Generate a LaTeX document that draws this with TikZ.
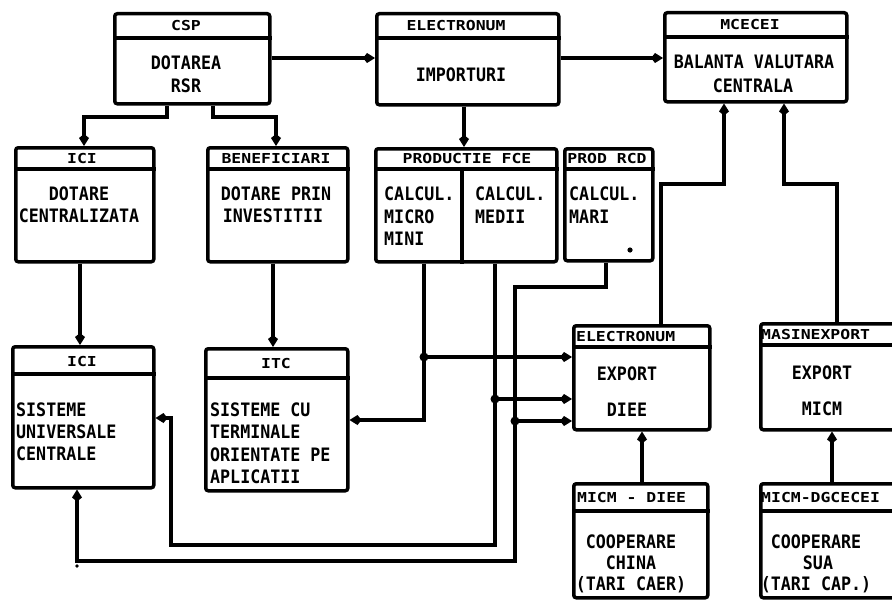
\documentclass[tikz,border=0pt]{standalone}
\usepackage{fontspec}
\newfontfamily\headfont{DejaVu Sans Mono}[FakeStretch=1.2]
\newfontfamily\bodyfont{DejaVu Sans Mono}[FakeStretch=0.9]
\usetikzlibrary{arrows.meta}
\begin{document}
\begin{tikzpicture}[x=1pt,y=-1pt,
  box/.style={draw, line width=3.5pt, rounded corners=2.5pt, inner sep=0pt, anchor=north west},
  ln/.style={line width=3.3pt},
  conn/.style={line width=3.3pt, -{Kite[length=12pt,width=10pt,inset=4pt]}},
  hd/.style={font=\headfont\bfseries\fontsize{13.7}{14}\selectfont, inner sep=0pt, text height=10pt, text depth=0pt},
  bd/.style={font=\bodyfont\bfseries\fontsize{18.5}{20}\selectfont, inner sep=0pt, text height=13.4pt, text depth=0pt},
  jdot/.style={circle, fill, inner sep=0pt, minimum size=9pt}]
\useasboundingbox (0,0) rectangle (892,602);
\fill[white] (0,0) rectangle (892,602);

% boxes
\node[box, minimum width=155pt, minimum height=90pt] (csp) at (113,12) {};
\node[box, minimum width=182pt, minimum height=91pt] (elecA) at (375,12) {};
\node[box, minimum width=182pt, minimum height=89pt] (mcecei) at (663,11) {};
\node[box, minimum width=138pt, minimum height=114pt] (iciA) at (14,146) {};
\node[box, minimum width=140pt, minimum height=114pt] (benef) at (206,146) {};
\node[box, minimum width=181pt, minimum height=113pt] (prod) at (374,147) {};
\node[box, minimum width=88pt, minimum height=112pt] (rcd) at (563,147) {};
\node[box, minimum width=141pt, minimum height=141pt] (iciB) at (11,345) {};
\node[box, minimum width=142pt, minimum height=142pt] (itc) at (204,347) {};
\node[box, minimum width=136pt, minimum height=104pt] (elecB) at (572,324) {};
\node[box, minimum width=140pt, minimum height=106pt] (masex) at (759,322) {};
\node[box, minimum width=134pt, minimum height=114pt] (mdiee) at (572,482) {};
\node[box, minimum width=140pt, minimum height=114pt] (mdg) at (759,482) {};

% header lines
\draw[ln] (csp.west |- 0,38) -- (csp.east |- 0,38);
\draw[ln] (elecA.west |- 0,38) -- (elecA.east |- 0,38);
\draw[ln] (mcecei.west |- 0,37) -- (mcecei.east |- 0,37);
\draw[ln] (iciA.west |- 0,169) -- (iciA.east |- 0,169);
\draw[ln] (benef.west |- 0,169) -- (benef.east |- 0,169);
\draw[ln] (prod.west |- 0,169) -- (prod.east |- 0,169);
\draw[ln] (rcd.west |- 0,169) -- (rcd.east |- 0,169);
\draw[ln] (iciB.west |- 0,374) -- (iciB.east |- 0,374);
\draw[ln] (itc.west |- 0,378) -- (itc.east |- 0,378);
\draw[ln] (elecB.west |- 0,347) -- (elecB.east |- 0,347);
\draw[ln] (masex.west |- 0,345) -- (masex.east |- 0,345);
\draw[ln] (mdiee.west |- 0,511) -- (mdiee.east |- 0,511);
\draw[ln] (mdg.west |- 0,511) -- (mdg.east |- 0,511);
\draw[ln] (prod.north -| 462,0) ++(0,22) -- (prod.south -| 462,0);

% texts
\node[hd] (t-csp) at (186,26) {CSP};
\node[bd] (t-csp1) at (186,63) {DOTAREA};
\node[bd] (t-csp2) at (186,86) {RSR};

\node[hd] (t-ea) at (456,26) {ELECTRONUM};
\node[bd] (t-ea1) at (461,75) {IMPORTURI};

\node[hd] (t-mc) at (750,25) {MCECEI};
\node[bd] (t-mc1) at (754,62) {BALANTA VALUTARA};
\node[bd] (t-mc2) at (753,86) {CENTRALA};

\node[hd] (t-ia) at (82,158) {ICI};
\node[bd] (t-ia1) at (79,194) {DOTARE};
\node[bd] (t-ia2) at (79,216) {CENTRALIZATA};

\node[hd] (t-be) at (276,158) {BENEFICIARI};
\node[bd] (t-be1) at (276,194) {DOTARE PRIN};
\node[bd] (t-be2) at (273,216) {INVESTITII};

\node[hd] (t-pr) at (467,158) {PRODUCTIE FCE};
\node[bd, anchor=west] (t-pr1) at (384,194) {CALCUL.};
\node[bd, anchor=west] (t-pr2) at (384,217) {MICRO};
\node[bd, anchor=west] (t-pr3) at (384,239) {MINI};
\node[bd, anchor=west] (t-pr4) at (475,194) {CALCUL.};
\node[bd, anchor=west] (t-pr5) at (475,217) {MEDII};

\node[hd] (t-rc) at (607,158) {PROD RCD};
\node[bd, anchor=west] (t-rc1) at (569,194) {CALCUL.};
\node[bd, anchor=west] (t-rc2) at (569,217) {MARI};
\fill (630,250) circle (2.6pt);

\node[hd] (t-ib) at (82,361) {ICI};
\node[bd, anchor=west] (t-ib1) at (16,410) {SISTEME};
\node[bd, anchor=west] (t-ib2) at (16,432) {UNIVERSALE};
\node[bd, anchor=west] (t-ib3) at (16,454) {CENTRALE};

\node[hd] (t-it) at (276,363) {ITC};
\node[bd, anchor=west] (t-it1) at (210,410) {SISTEME CU};
\node[bd, anchor=west] (t-it2) at (210,432) {TERMINALE};
\node[bd, anchor=west] (t-it3) at (210,455) {ORIENTATE PE};
\node[bd, anchor=west] (t-it4) at (210,477) {APLICATII};

\node[hd, anchor=west] (t-eb) at (576,336) {ELECTRONUM};
\node[bd] (t-eb1) at (627,374) {EXPORT};
\node[bd] (t-eb2) at (627,410) {DIEE};

\node[hd, anchor=west] (t-ma) at (761,334) {MASINEXPORT};
\node[bd] (t-ma1) at (822,373) {EXPORT};
\node[bd] (t-ma2) at (822,409) {MICM};

\node[hd, anchor=west] (t-md) at (577,497) {MICM - DIEE};
\node[bd] (t-md1) at (631,542) {COOPERARE};
\node[bd] (t-md2) at (631,563) {CHINA};
\node[bd] (t-md3) at (631,584) {(TARI CAER)};

\node[hd, anchor=west] (t-mg) at (761,497) {MICM-DGCECEI};
\node[bd] (t-mg1) at (816,542) {COOPERARE};
\node[bd] (t-mg2) at (818,563) {SUA};
\node[bd] (t-mg3) at (816,584) {(TARI CAP.)};

% connectors
\draw[conn] (csp.east |- 0,58) -- (elecA.west |- 0,58);
\draw[conn] (elecA.east |- 0,58) -- (mcecei.west |- 0,58);
\draw[conn] (csp.south -| 167,0) -- (167,117) -- (84,117) -- (iciA.north -| 84,0);
\draw[conn] (csp.south -| 213,0) -- (213,117) -- (276,117) -- (benef.north -| 276,0);
\draw[conn] (elecA.south -| 464,0) -- (prod.north -| 464,0);
\draw[conn] (iciA.south -| 80,0) -- (iciB.north -| 80,0);
\draw[conn] (benef.south -| 273,0) -- (itc.north -| 273,0);
\draw[conn] (elecB.north -| 661,0) -- (661,184) -- (724,184) -- (mcecei.south -| 724,0);
\draw[conn] (masex.north -| 837,0) -- (837,184) -- (784,184) -- (mcecei.south -| 784,0);
\draw[conn] (mdiee.north -| 642,0) -- (elecB.south -| 642,0);
\draw[conn] (mdg.north -| 832,0) -- (masex.south -| 832,0);

\coordinate (j1) at (424,357);
\coordinate (j2) at (495,399);
\coordinate (j3) at (515,421);
\draw[conn] (prod.south -| 424,0) -- (424,420) -- (itc.east |- 0,420);
\draw[conn] (prod.south -| 495,0) -- (495,545) -- (171,545) -- (171,418) -- (iciB.east |- 0,418);
\draw[conn] (rcd.south -| 606,0) -- (606,287) -- (515,287) -- (515,561) -- (77,561) -- (iciB.south -| 77,0);
\draw[conn] (j1) -- (elecB.west |- j1);
\draw[conn] (j2) -- (elecB.west |- j2);
\draw[conn] (j3) -- (elecB.west |- j3);
\node[jdot] (d1) at (j1) {};
\node[jdot] (d2) at (j2) {};
\node[jdot] (d3) at (j3) {};
\fill (77,566) circle (1.8pt);
\end{tikzpicture}
\end{document}
